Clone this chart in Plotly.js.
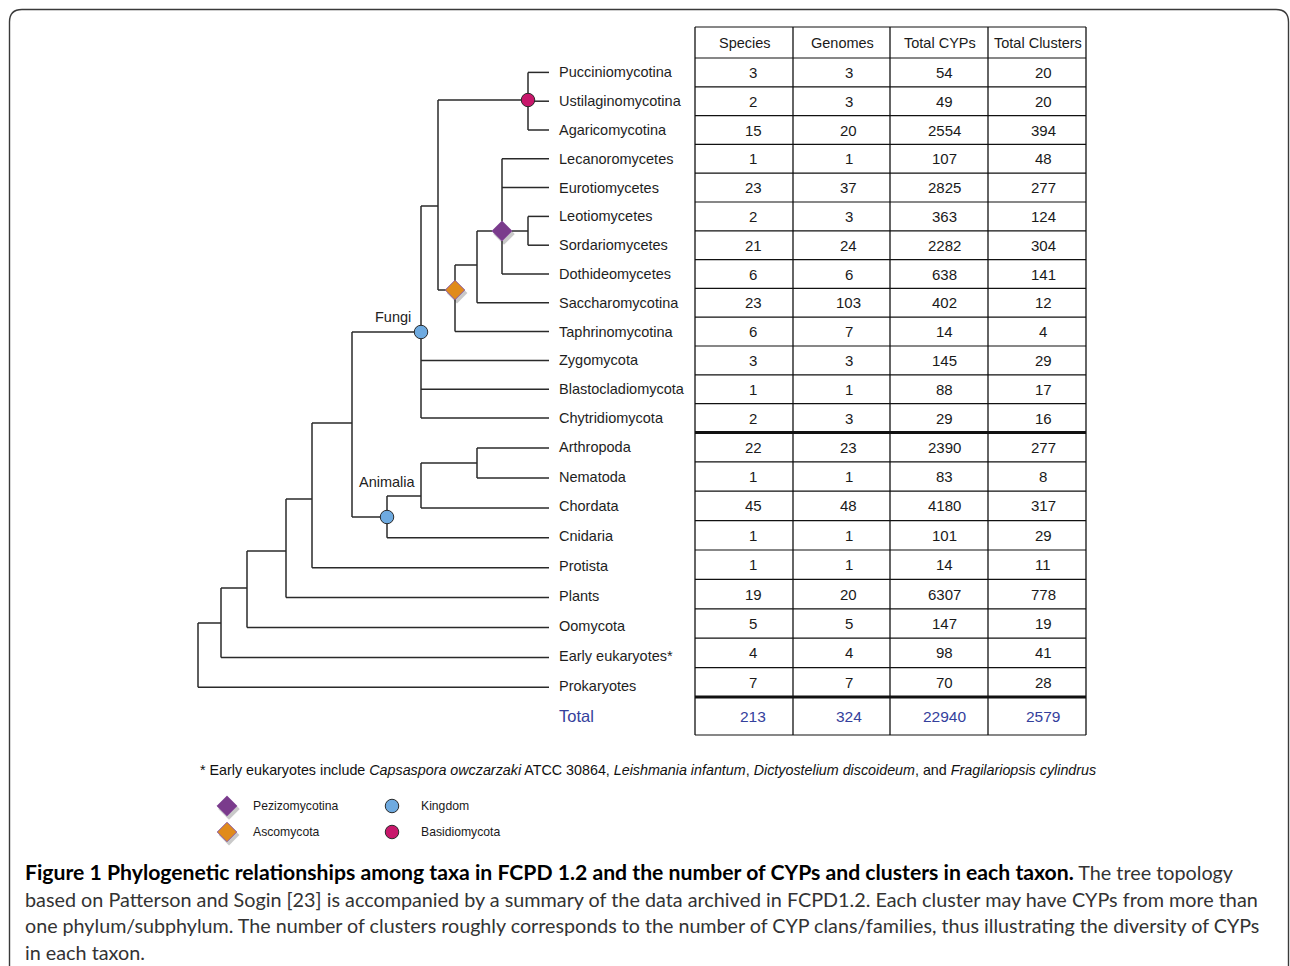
<!DOCTYPE html>
<html><head><meta charset="utf-8">
<script src="https://cdn.plot.ly/plotly-3.0.1.min.js"></script>
<style>html,body{margin:0;padding:0;background:#fff}#chart{width:1290px;height:966px}</style>
</head><body><div id="chart"></div>
<script>
// ---------------- DATA ----------------
const taxa = ['Pucciniomycotina','Ustilaginomycotina','Agaricomycotina','Lecanoromycetes','Eurotiomycetes','Leotiomycetes','Sordariomycetes','Dothideomycetes','Saccharomycotina','Taphrinomycotina','Zygomycota','Blastocladiomycota','Chytridiomycota','Arthropoda','Nematoda','Chordata','Cnidaria','Protista','Plants','Oomycota','Early eukaryotes*','Prokaryotes'];
const species       = [3,2,15,1,23,2,21,6,23,6,3,1,2,22,1,45,1,1,19,5,4,7];
const genomes       = [3,3,20,1,37,3,24,6,103,7,3,1,3,23,1,48,1,1,20,5,4,7];
const totalCYPs     = [54,49,2554,107,2825,363,2282,638,402,14,145,88,29,2390,83,4180,101,14,6307,147,98,70];
const totalClusters = [20,20,394,48,277,124,304,141,12,4,29,17,16,277,8,317,29,11,778,19,41,28];
const columnHeaders = ['Species','Genomes','Total CYPs','Total Clusters'];
const totals        = [213,324,22940,2579];
const totalLabel    = 'Total';
const legendLabels  = ['Pezizomycotina','Ascomycota','Kingdom','Basidiomycota'];
const footnoteHtml  = '* Early eukaryotes include <i>Capsaspora owczarzaki</i> ATCC 30864, <i>Leishmania infantum</i>, <i>Dictyostelium discoideum</i>, and <i>Fragilariopsis cylindrus</i>';
const captionBold   = 'Figure 1 Phylogenetic relationships among taxa in FCPD 1.2 and the number of CYPs and clusters in each taxon.';
const captionLines  = [' The tree topology',
  'based on Patterson and Sogin [23] is accompanied by a summary of the data archived in FCPD1.2. Each cluster may have CYPs from more than',
  'one phylum/subphylum. The number of clusters roughly corresponds to the number of CYP clans/families, thus illustrating the diversity of CYPs',
  'in each taxon.'];

// Tree topology (leaves are indexes into taxa); x/y are drawing positions of internal nodes
const tree = {x:198, y:655, kids:[
  {x:221, y:623, kids:[
    {x:247, y:588, kids:[
      {x:286, y:551, kids:[
        {x:312, y:499, kids:[
          {x:352, y:423, kids:[
            {x:421, y:332, mark:'kingdom', label:'Fungi', lx:-8, ly:-15, kids:[
              {x:438, y:206, kids:[
                {x:528, y:100, mark:'basidio', kids:[0,1,2]},
                {x:455, y:290, mark:'asco', kids:[
                  {x:477, y:265, kids:[
                    {x:502, y:231, mark:'pezizo', kids:[3,4,{x:528, y:231, kids:[5,6]},7]},
                    8]},
                  9]}
              ]},
              10,11,12]},
            {x:387, y:517, mark:'kingdom', label:'Animalia', lx:31, ly:-35, kids:[
              {x:421, y:496, kids:[{x:477, y:463, kids:[13,14]}, 15]},
              16]}
          ]},
          17]},
        18]},
      19]},
    20]},
  21]};

// ---------------- GEOMETRY ----------------
const cols = [695,793,890,988,1086];
const colShift = [9,7,5,6];
const tableTop = 27, headBottom = 58, blockSize = 13, rowH = [28.8, 29.4], totalH = 38;
const bounds = [headBottom];
for (let i = 0; i < taxa.length; i++) bounds.push(bounds[i] + (i < blockSize ? rowH[0] : rowH[1]));
const tableBottom = bounds[bounds.length-1] + totalH;
const rowC = i => (bounds[i] + bounds[i+1]) / 2;
const colC = j => (cols[j] + cols[j+1]) / 2;
const leafPitch2 = 29.9;
const leafY = i => i < blockSize ? rowC(i) : rowC(blockSize) + 1 + (i - blockSize) * leafPitch2;
const leafEnd = 549, labelX = 557;
const blue = '#34409c';
const baseFont = 'Liberation Sans, Arial, sans-serif';

const markStyle = {
  pezizo:  {symbol:'diamond', color:'#7a3b8c', line:'#8e5aa0', size:15.5, shadow:true},
  asco:    {symbol:'diamond', color:'#e08b1c', line:'#8a5ca8', size:15, shadow:true},
  kingdom: {symbol:'circle',  color:'#6eaae0', line:'#2a2a2a', size:13.5},
  basidio: {symbol:'circle',  color:'#c8176b', line:'#2a2a2a', size:13.5}
};

// ---------------- TREE ----------------
const lx = [], ly = [];
const marks = [];
const annotations = [];
function seg(x0,y0,x1,y1){ lx.push(x0,x1,null); ly.push(y0,y1,null); }
function draw(node){
  const ys = node.kids.map(k => typeof k === 'number' ? leafY(k) : k.y);
  seg(node.x, Math.min(...ys, node.y), node.x, Math.max(...ys, node.y));
  node.kids.forEach(k => {
    if (typeof k === 'number') seg(node.x, leafY(k), leafEnd, leafY(k));
    else { seg(node.x, k.y, k.x, k.y); draw(k); }
  });
  if (node.mark) marks.push({x:node.x, y:node.y, m:node.mark});
  if (node.label) annotations.push({x:node.x+node.lx, y:node.y+node.ly, text:node.label, xanchor:'right', yanchor:'middle', showarrow:false, font:{family:baseFont, size:14.5, color:'#222'}});
}
draw(tree);

const traces = [{x:lx, y:ly, mode:'lines', line:{color:'#2a2a2a', width:1.5}, hoverinfo:'skip', type:'scatter'}];

function markerTraces(pts, withShadow){
  const out = [];
  const groups = {};
  pts.forEach(p => { (groups[p.m] = groups[p.m] || []).push(p); });
  Object.keys(groups).forEach(k => {
    const s = markStyle[k], g = groups[k];
    if (s.shadow && withShadow) out.push({x:g.map(p=>p.x+2), y:g.map(p=>p.y+3), mode:'markers', type:'scatter', hoverinfo:'skip',
      marker:{symbol:s.symbol, size:s.size+1, color:'rgba(60,60,60,0.28)', line:{width:0}}});
    out.push({x:g.map(p=>p.x), y:g.map(p=>p.y), mode:'markers', type:'scatter', hoverinfo:'skip',
      marker:{symbol:s.symbol, size:s.size, color:s.color, line:{color:s.line, width:1}}});
  });
  return out;
}
traces.push(...markerTraces(marks, true));

// ---------------- TABLE ----------------
const shapes = [];
cols.forEach(x => shapes.push({type:'line', xref:'x', yref:'y', x0:x, x1:x, y0:tableTop, y1:tableBottom, line:{color:'#111', width:1.3}}));
const hLines = [tableTop].concat(bounds, [tableBottom]);
hLines.forEach(y => {
  const thick = (y === bounds[blockSize] || y === bounds[bounds.length-1]);
  shapes.push({type:'line', xref:'x', yref:'y', x0:cols[0], x1:cols[cols.length-1], y0:y, y1:y, line:{color:'#111', width: thick ? 3 : 1.2}});
});

columnHeaders.forEach((h, j) => annotations.push({x:colC(j)+1, y:(tableTop+headBottom)/2, text:h, showarrow:false, xanchor:'center', yanchor:'middle', font:{family:baseFont, size:14.5, color:'#1a1a1a'}}));
[species, genomes, totalCYPs, totalClusters].forEach((arr, j) => {
  arr.forEach((v, i) => annotations.push({x:colC(j)+colShift[j], y:rowC(i), text:String(v), showarrow:false, xanchor:'center', yanchor:'middle', font:{family:baseFont, size:15, color:'#1a1a1a'}}));
});
const totalY = (bounds[bounds.length-1] + tableBottom) / 2;
totals.forEach((v, j) => annotations.push({x:colC(j)+colShift[j], y:totalY, text:String(v), showarrow:false, xanchor:'center', yanchor:'middle', font:{family:baseFont, size:15.5, color:blue}}));

taxa.forEach((t, i) => annotations.push({x:labelX, y:leafY(i) - (i >= blockSize ? 1.5 : 0), text:t, showarrow:false, xanchor:'left', yanchor:'middle', font:{family:baseFont, size:14.5, color:'#1e1e1e'}}));
annotations.push({x:labelX, y:totalY, text:totalLabel, showarrow:false, xanchor:'left', yanchor:'middle', font:{family:baseFont, size:16.5, color:blue}});

// ---------------- FOOTNOTE & LEGEND ----------------
annotations.push({x:198, y:770, text:footnoteHtml, showarrow:false, xanchor:'left', yanchor:'middle', font:{family:baseFont, size:14.3, color:'#111'}});
const legendPts = [{x:227, y:806, m:'pezizo'}, {x:227, y:832, m:'asco'}, {x:392, y:806, m:'kingdom'}, {x:392, y:832, m:'basidio'}];
traces.push(...markerTraces(legendPts, true));
legendPts.forEach((p, i) => annotations.push({x:p.x + (p.m==='pezizo'||p.m==='asco' ? 24 : 27), y:p.y, text:legendLabels[i], showarrow:false, xanchor:'left', yanchor:'middle', font:{family:baseFont, size:12.2, color:'#1a1a1a'}}));

// ---------------- CAPTION ----------------
const capFont = 'Lato, Open Sans, sans-serif';
const capSizes = [19.8, 19.8, 19.7, 19.8];
captionLines.forEach((line, i) => {
  const text = i === 0 ? '<b><span style="font-size:21.2px">' + captionBold + '</span></b>' + '<span style="color:#333">' + line + '</span>' : line;
  annotations.push({x:23, y:872 + i*26.7, text:text, showarrow:false, xanchor:'left', yanchor:'middle', font:{family:capFont, size:capSizes[i], color: i===0 ? '#000' : '#333'}});
});

// ---------------- FRAME ----------------
shapes.push({type:'path', xref:'x', yref:'y', path:'M 9.5 970 L 9.5 22 Q 9.5 9.5 22 9.5 L 1276 9.5 Q 1288.5 9.5 1288.5 22 L 1288.5 970', line:{color:'#3a3a3a', width:1.4}});

const layout = {
  width:1290, height:966, margin:{l:0, r:0, t:0, b:0, pad:0},
  paper_bgcolor:'#fff', plot_bgcolor:'#fff', showlegend:false, hovermode:false,
  xaxis:{range:[0,1290], visible:false, fixedrange:true},
  yaxis:{range:[966,0], visible:false, fixedrange:true},
  shapes:shapes, annotations:annotations
};
Plotly.newPlot('chart', traces, layout, {staticPlot:true, displayModeBar:false});
</script></body></html>
